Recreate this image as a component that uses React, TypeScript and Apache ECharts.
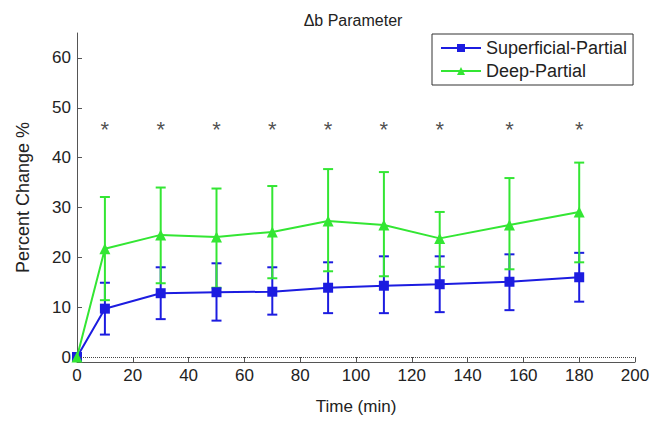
import React, { useEffect, useRef } from "react";
import * as echarts from "echarts";

const timePoints = [0, 10, 30, 50, 70, 90, 110, 130, 155, 180];
const superficialMean = [0, 9.7, 12.8, 13.0, 13.1, 13.9, 14.3, 14.6, 15.1, 16.0];
const superficialLow = [0, 4.5, 7.6, 7.3, 8.5, 8.8, 8.8, 9.0, 9.4, 11.1];
const superficialHigh = [0, 14.9, 18.0, 18.8, 18.0, 19.0, 20.2, 20.2, 20.6, 20.9];
const deepMean = [0, 21.7, 24.5, 24.1, 25.1, 27.3, 26.5, 23.8, 26.5, 29.1];
const deepLow = [0, 11.4, 14.8, 13.9, 15.8, 17.2, 16.2, 18.1, 17.6, 19.0];
const deepHigh = [0, 32.1, 34.0, 33.8, 34.3, 37.7, 37.1, 29.1, 35.9, 39.0];
const starTimes = [10, 30, 50, 70, 90, 110, 130, 155, 180];
const starLevel = 46.5;
const yTicks = [0, 10, 20, 30, 40, 50, 60];

const BLUE = "#1c1ce0";
const GREEN = "#33e633";
const FONT = "Liberation Sans";

function errorSeries(color: string, low: number[], high: number[]) {
  const data = timePoints
    .map((t, i) => [t, low[i], high[i]])
    .filter((d) => d[0] !== 0);
  return {
    type: "custom",
    data,
    encode: { x: 0, y: [1, 2] },
    silent: true,
    z: 3,
    renderItem: (_params: any, api: any) => {
      const x = api.value(0);
      const lo = api.coord([x, api.value(1)]);
      const hi = api.coord([x, api.value(2)]);
      const w = 5;
      const style = { stroke: color, lineWidth: 2 };
      return {
        type: "group",
        children: [
          { type: "line", shape: { x1: lo[0], y1: lo[1], x2: hi[0], y2: hi[1] }, style },
          { type: "line", shape: { x1: lo[0] - w, y1: lo[1], x2: lo[0] + w, y2: lo[1] }, style },
          { type: "line", shape: { x1: hi[0] - w, y1: hi[1], x2: hi[0] + w, y2: hi[1] }, style },
        ],
      };
    },
  };
}

export default function App() {
  const ref = useRef<HTMLDivElement>(null);
  useEffect(() => {
    if (!ref.current) return;
    const chart = echarts.init(ref.current, null, { renderer: "svg" });
    chart.setOption({
      animation: false,
      backgroundColor: "#ffffff",
      textStyle: { fontFamily: FONT },
      title: {
        text: "\u0394b Parameter",
        left: 348,
        textAlign: "center",
        top: 7,
        textStyle: { fontFamily: FONT, fontSize: 16, fontWeight: "normal", color: "#222" },
      },
      legend: {
        data: ["Superficial-Partial", "Deep-Partial"],
        orient: "vertical",
        left: 432,
        top: 34,
        borderColor: "#333",
        borderWidth: 1,
        borderRadius: 0,
        padding: [5, 6, 5, 8],
        itemGap: 5,
        itemWidth: 40,
        itemHeight: 10,
        textStyle: { fontFamily: FONT, fontSize: 18, color: "#222" },
      },
      grid: { left: 77, right: 27, top: 33, bottom: 61 },
      xAxis: {
        type: "value",
        min: 0,
        max: 200,
        interval: 20,
        name: "Time (min)",
        nameLocation: "middle",
        nameGap: 36,
        nameTextStyle: { fontFamily: FONT, fontSize: 17, color: "#222" },
        axisLine: { onZero: false, lineStyle: { color: "#555", width: 1 } },
        axisTick: { inside: true, length: 5, lineStyle: { color: "#555" } },
        axisLabel: { fontFamily: FONT, fontSize: 17, color: "#222", margin: 5 },
        splitLine: { show: false },
      },
      yAxis: {
        type: "value",
        min: -1,
        max: 65,
        name: "Percent Change %",
        nameLocation: "middle",
        nameGap: 45,
        nameTextStyle: { fontFamily: FONT, fontSize: 18, color: "#222" },
        axisLine: { show: true, lineStyle: { color: "#555", width: 1 } },
        axisTick: { show: true, inside: true, length: 5, customValues: yTicks, lineStyle: { color: "#555" } },
        axisLabel: { fontFamily: FONT, fontSize: 17, color: "#222", margin: 6, customValues: yTicks },
        splitLine: { show: false },
      },
      series: [
        errorSeries(BLUE, superficialLow, superficialHigh),
        errorSeries(GREEN, deepLow, deepHigh),
        {
          name: "Superficial-Partial",
          type: "line",
          data: timePoints.map((t, i) => [t, superficialMean[i]]),
          symbol: "rect",
          symbolSize: 10,
          lineStyle: { color: BLUE, width: 2 },
          itemStyle: { color: BLUE },
          z: 4,
          markLine: {
            silent: true,
            symbol: "none",
            label: { show: false },
            lineStyle: { type: "dotted", color: "#444", width: 1 },
            data: [{ yAxis: 0 }],
          },
        },
        {
          name: "Deep-Partial",
          type: "line",
          data: timePoints.map((t, i) => [t, deepMean[i]]),
          symbol: "triangle",
          symbolSize: 11,
          lineStyle: { color: GREEN, width: 2 },
          itemStyle: { color: GREEN },
          z: 5,
        },
        {
          type: "scatter",
          data: starTimes.map((t) => [t, starLevel]),
          symbolSize: 0,
          silent: true,
          label: {
            show: true,
            position: "inside",
            formatter: "*",
            fontFamily: FONT,
            fontSize: 22,
            color: "#222",
            offset: [0, 4],
          },
        },
      ],
    });
    return () => chart.dispose();
  }, []);
  return (
    <div
      ref={ref}
      style={{ position: "fixed", left: 0, top: 0, width: 662, height: 423 }}
    />
  );
}
